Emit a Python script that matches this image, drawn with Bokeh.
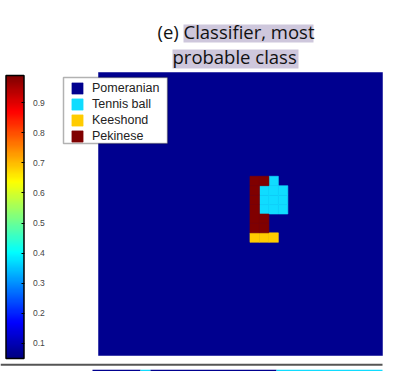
from bokeh.plotting import figure
from bokeh.models import (Range1d, ColorBar, LinearColorMapper, FixedTicker,
                          PrintfTickFormatter, Label, BoxAnnotation, Legend, LegendItem)
from bokeh.embed import file_html
from bokeh.resources import INLINE

# ---------------- data ----------------
class_names = ["Pomeranian", "Tennis ball", "Keeshond", "Pekinese"]
class_codes = ["P", "T", "K", "E"]
class_colors = ["#00008f", "#10dcff", "#ffcc00", "#800000"]

# most probable class per cell, rows listed from top to bottom
class_grid = [
    "PPPPPPPPPPPPPPPPPPPPPPPPPPPPPP",
    "PPPPPPPPPPPPPPPPPPPPPPPPPPPPPP",
    "PPPPPPPPPPPPPPPPPPPPPPPPPPPPPP",
    "PPPPPPPPPPPPPPPPPPPPPPPPPPPPPP",
    "PPPPPPPPPPPPPPPPPPPPPPPPPPPPPP",
    "PPPPPPPPPPPPPPPPPPPPPPPPPPPPPP",
    "PPPPPPPPPPPPPPPPPPPPPPPPPPPPPP",
    "PPPPPPPPPPPPPPPPPPPPPPPPPPPPPP",
    "PPPPPPPPPPPPPPPPPPPPPPPPPPPPPP",
    "PPPPPPPPPPPPPPPPPPPPPPPPPPPPPP",
    "PPPPPPPPPPPPPPPPPPPPPPPPPPPPPP",
    "PPPPPPPPPPPPPPPPEETPPPPPPPPPPP",
    "PPPPPPPPPPPPPPPPETTTPPPPPPPPPP",
    "PPPPPPPPPPPPPPPPETTTPPPPPPPPPP",
    "PPPPPPPPPPPPPPPPETTTPPPPPPPPPP",
    "PPPPPPPPPPPPPPPPEEPPPPPPPPPPPP",
    "PPPPPPPPPPPPPPPPEEPPPPPPPPPPPP",
    "PPPPPPPPPPPPPPPPKKKPPPPPPPPPPP",
    "PPPPPPPPPPPPPPPPPPPPPPPPPPPPPP",
    "PPPPPPPPPPPPPPPPPPPPPPPPPPPPPP",
    "PPPPPPPPPPPPPPPPPPPPPPPPPPPPPP",
    "PPPPPPPPPPPPPPPPPPPPPPPPPPPPPP",
    "PPPPPPPPPPPPPPPPPPPPPPPPPPPPPP",
    "PPPPPPPPPPPPPPPPPPPPPPPPPPPPPP",
    "PPPPPPPPPPPPPPPPPPPPPPPPPPPPPP",
    "PPPPPPPPPPPPPPPPPPPPPPPPPPPPPP",
    "PPPPPPPPPPPPPPPPPPPPPPPPPPPPPP",
    "PPPPPPPPPPPPPPPPPPPPPPPPPPPPPP",
    "PPPPPPPPPPPPPPPPPPPPPPPPPPPPPP",
    "PPPPPPPPPPPPPPPPPPPPPPPPPPPPPP",
]

colorbar_low = 0.05
colorbar_high = 0.99
colorbar_ticks = [0.1, 0.2, 0.3, 0.4, 0.5, 0.6, 0.7, 0.8, 0.9]

title_prefix = "(e)"
title_line1 = "Classifier, most"
title_line2 = "probable class"

# sliver of the next panel visible at the bottom edge (codes across its top row)
next_strip_codes = ["P", "T", "P", "T"]
next_strip_edges = [92, 140, 150, 276, 382]   # screen px

# ---------------- figure ----------------
W, H = 395, 371
nrows = len(class_grid)
ncols = len(class_grid[0])

# pixel placement of the class map inside the canvas
img_left, img_right = 98.0, 382.0
img_top, img_bottom = 72.0, 355.0
sx = (img_right - img_left) / ncols
sy = (img_bottom - img_top) / nrows

p = figure(width=W, height=H, output_backend="svg", toolbar_location=None,
           x_range=Range1d(-img_left / sx, ncols + (W - img_right) / sx),
           y_range=Range1d(-(H - img_bottom) / sy, nrows + img_top / sy),
           min_border=0, min_border_left=0, min_border_right=0,
           min_border_top=0, min_border_bottom=0)
p.axis.visible = False
p.grid.visible = False
p.outline_line_color = None
p.background_fill_color = "white"
p.border_fill_color = "white"

renderers = {}
# background class as one block covering the grid
bg_code = class_codes[0]
renderers[bg_code] = p.quad(left=[0], right=[ncols], bottom=[0], top=[nrows],
                            fill_color=class_colors[0], line_color=class_colors[0],
                            line_width=0.5)
for code, color in zip(class_codes[1:], class_colors[1:]):
    lefts, rights, tops, bottoms = [], [], [], []
    for r, row in enumerate(class_grid):
        for c, ch in enumerate(row):
            if ch == code:
                lefts.append(c)
                rights.append(c + 1)
                tops.append(nrows - r)
                bottoms.append(nrows - r - 1)
    renderers[code] = p.quad(left=lefts, right=rights, top=tops, bottom=bottoms,
                             fill_color=color, line_color=color, line_width=0.6)

# ---------------- colorbar ----------------
def jet(t):
    def cl(v):
        return max(0.0, min(1.0, v))
    r = cl(1.5 - abs(4 * t - 3))
    g = cl(1.5 - abs(4 * t - 2))
    b = cl(1.5 - abs(4 * t - 1))
    return "#%02x%02x%02x" % (int(r * 255), int(g * 255), int(b * 255))

jet_palette = [jet(i / 255) for i in range(256)]
mapper = LinearColorMapper(palette=jet_palette, low=colorbar_low, high=colorbar_high)
cb = ColorBar(color_mapper=mapper, orientation="vertical",
              width=18, height=283, location=(5.5, 13),
              padding=0, margin=0,
              ticker=FixedTicker(ticks=colorbar_ticks),
              formatter=PrintfTickFormatter(format="%.1f"),
              major_label_text_font="Liberation Sans",
              major_label_text_font_size="8.5px",
              major_label_text_color="#444444",
              label_standoff=9,
              major_tick_in=3, major_tick_out=0,
              major_tick_line_color="#000000",
              minor_tick_line_color=None,
              bar_line_color="#000000", bar_line_width=1.5,
              border_line_color=None, background_fill_color=None)
p.add_layout(cb, "center")

# ---------------- legend ----------------
box = BoxAnnotation(left=63, right=167, top=H - 77, bottom=H - 143,
                    left_units="screen", right_units="screen",
                    top_units="screen", bottom_units="screen",
                    fill_color="white", fill_alpha=1.0,
                    line_color="black", line_width=1.5)
p.add_layout(box)

items = [LegendItem(label=name, renderers=[renderers[code]])
         for name, code in zip(class_names, class_codes)]
legend = Legend(items=items, location=(70, 228), orientation="vertical",
                padding=4, margin=0, spacing=2,
                glyph_width=14, glyph_height=14, label_height=14,
                label_standoff=8, label_text_font="Liberation Sans",
                label_text_font_size="12.5px", label_text_color="#222222",
                border_line_color=None, background_fill_alpha=0.0)
p.add_layout(legend, "center")

# ---------------- title ----------------
hl = "#cec7dc"
for (l, r, t, b) in [(183, 313, 24, 42), (172, 298, 49, 68)]:
    p.add_layout(BoxAnnotation(left=l, right=r, top=H - t, bottom=H - b,
                               left_units="screen", right_units="screen",
                               top_units="screen", bottom_units="screen",
                               fill_color=hl, fill_alpha=1.0, line_color=None))
title_font = "Open Sans"
title_size = "18.5px"
p.add_layout(Label(x=157, y=H - 31, x_units="screen", y_units="screen",
                   text=title_prefix, text_font=title_font, text_font_size=title_size,
                   text_color="#111111", text_baseline="alphabetic", text_align="left"))
p.add_layout(Label(x=183, y=H - 31, x_units="screen", y_units="screen",
                   text=title_line1, text_font=title_font, text_font_size=title_size,
                   text_color="#111111", text_baseline="alphabetic", text_align="left"))
p.add_layout(Label(x=172, y=H - 55.5, x_units="screen", y_units="screen",
                   text=title_line2, text_font=title_font, text_font_size=title_size,
                   text_color="#111111", text_baseline="alphabetic", text_align="left"))

# ---------------- bottom rule and next-panel sliver ----------------
p.add_layout(BoxAnnotation(left=0, right=382, top=7.7, bottom=5.7,
                           left_units="screen", right_units="screen",
                           top_units="screen", bottom_units="screen",
                           fill_color="#555555", fill_alpha=1.0, line_color=None))
code_color = dict(zip(class_codes, class_colors))
for i, code in enumerate(next_strip_codes):
    p.add_layout(BoxAnnotation(left=next_strip_edges[i], right=next_strip_edges[i + 1],
                               top=1.8, bottom=0,
                               left_units="screen", right_units="screen",
                               top_units="screen", bottom_units="screen",
                               fill_color=code_color[code], fill_alpha=1.0,
                               line_color=None))

open("out.html", "w").write(file_html(p, INLINE))
